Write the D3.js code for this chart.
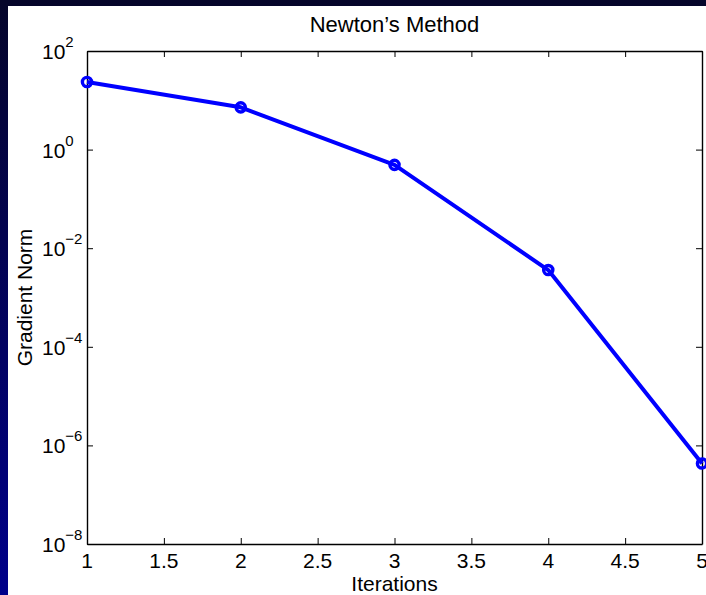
<!DOCTYPE html>
<html>
<head>
<meta charset="utf-8">
<script src="https://cdn.jsdelivr.net/npm/d3@7/dist/d3.min.js"></script>
<style>
  body { margin: 0; overflow: hidden; }
  svg text { font-family: "Liberation Sans", Arial, Helvetica, sans-serif; fill: #000; }
</style>
</head>
<body>
<script>
// values
const iterations = [1, 2, 3, 4, 5];
const gradientNorm = [23.5, 7.2, 0.49, 3.6e-3, 4.3e-7];
const xTickValues = [1, 1.5, 2, 2.5, 3, 3.5, 4, 4.5, 5];
const yExponents = [2, 0, -2, -4, -6, -8];

const W = 706, H = 595;
const PLOT_LEFT = 87, PLOT_RIGHT = 702;
const PLOT_TOP = 51, PLOT_BOTTOM = 544;
const TICK_LEN = 6;

const svg = d3.select('body').append('svg')
  .attr('width', W)
  .attr('height', H)
  .style('display', 'block');

// slide background
const defs = svg.append('defs');
const grad = defs.append('linearGradient')
  .attr('id', 'slideBg')
  .attr('x1', 0).attr('y1', 0).attr('x2', 0).attr('y2', 1);
grad.append('stop').attr('offset', '0%').attr('stop-color', '#05052a');
grad.append('stop').attr('offset', '100%').attr('stop-color', '#00008a');

svg.append('rect')
  .attr('width', W).attr('height', H)
  .attr('fill', 'url(#slideBg)');
svg.append('rect')
  .attr('x', 8).attr('y', 6)
  .attr('width', W - 8).attr('height', H - 6)
  .attr('fill', '#fff');

const x = d3.scaleLinear()
  .domain([1, 5])
  .range([PLOT_LEFT, PLOT_RIGHT]);

const y = d3.scaleLog()
  .domain([1e-8, 1e2])
  .range([PLOT_BOTTOM, PLOT_TOP]);

const yTickValues = yExponents.map(e => Math.pow(10, e));

// box axes, ticks point inward
svg.append('g')
  .attr('transform', `translate(0,${PLOT_BOTTOM})`)
  .call(d3.axisBottom(x).tickValues(xTickValues).tickSizeInner(-TICK_LEN).tickSizeOuter(0).tickFormat(''));
svg.append('g')
  .attr('transform', `translate(0,${PLOT_TOP})`)
  .call(d3.axisTop(x).tickValues(xTickValues).tickSizeInner(-TICK_LEN).tickSizeOuter(0).tickFormat(''));
svg.append('g')
  .attr('transform', `translate(${PLOT_LEFT},0)`)
  .call(d3.axisLeft(y).tickValues(yTickValues).tickSizeInner(-TICK_LEN).tickSizeOuter(0).tickFormat(''));
svg.append('g')
  .attr('transform', `translate(${PLOT_RIGHT},0)`)
  .call(d3.axisRight(y).tickValues(yTickValues).tickSizeInner(-TICK_LEN).tickSizeOuter(0).tickFormat(''));

svg.selectAll('.domain').attr('stroke', '#000').attr('stroke-width', 1.4);
svg.selectAll('.tick line').attr('stroke', '#000').attr('stroke-width', 1);

// x tick labels (the last one runs off the edge in the original too)
svg.append('g')
  .selectAll('text')
  .data(xTickValues)
  .join('text')
  .attr('x', d => x(d))
  .attr('y', 568)
  .attr('text-anchor', 'middle')
  .attr('font-size', 21)
  .text(d => d);

// y tick labels: 10 with a superscript exponent, bases left aligned
const yLabels = svg.append('g')
  .selectAll('text')
  .data(yExponents)
  .join('text')
  .attr('x', 42)
  .attr('y', d => y(Math.pow(10, d)) + 8)
  .attr('font-size', 21);
yLabels.append('tspan').text('10');
yLabels.append('tspan')
  .attr('font-size', 15)
  .attr('dy', -12)
  .text(d => d < 0 ? '\u2212' + (-d) : d);

// line + markers
const line = d3.line()
  .x((d, i) => x(iterations[i]))
  .y(d => y(d));

svg.append('path')
  .datum(gradientNorm)
  .attr('d', line)
  .attr('fill', 'none')
  .attr('stroke', '#0000ff')
  .attr('stroke-width', 4)
  .attr('stroke-linejoin', 'round');

svg.append('g')
  .selectAll('circle')
  .data(gradientNorm)
  .join('circle')
  .attr('cx', (d, i) => x(iterations[i]))
  .attr('cy', d => y(d))
  .attr('r', 4.6)
  .attr('fill', 'none')
  .attr('stroke', '#0000ff')
  .attr('stroke-width', 3.4);

// titles
svg.append('text')
  .attr('x', (PLOT_LEFT + PLOT_RIGHT) / 2)
  .attr('y', 32)
  .attr('text-anchor', 'middle')
  .attr('font-size', 22)
  .text('Newton\u2019s Method');

svg.append('text')
  .attr('x', (PLOT_LEFT + PLOT_RIGHT) / 2)
  .attr('y', 591)
  .attr('text-anchor', 'middle')
  .attr('font-size', 21)
  .text('Iterations');

svg.append('text')
  .attr('transform', `translate(32,${(PLOT_TOP + PLOT_BOTTOM) / 2}) rotate(-90)`)
  .attr('text-anchor', 'middle')
  .attr('font-size', 21)
  .text('Gradient Norm');
</script>
</body>
</html>
